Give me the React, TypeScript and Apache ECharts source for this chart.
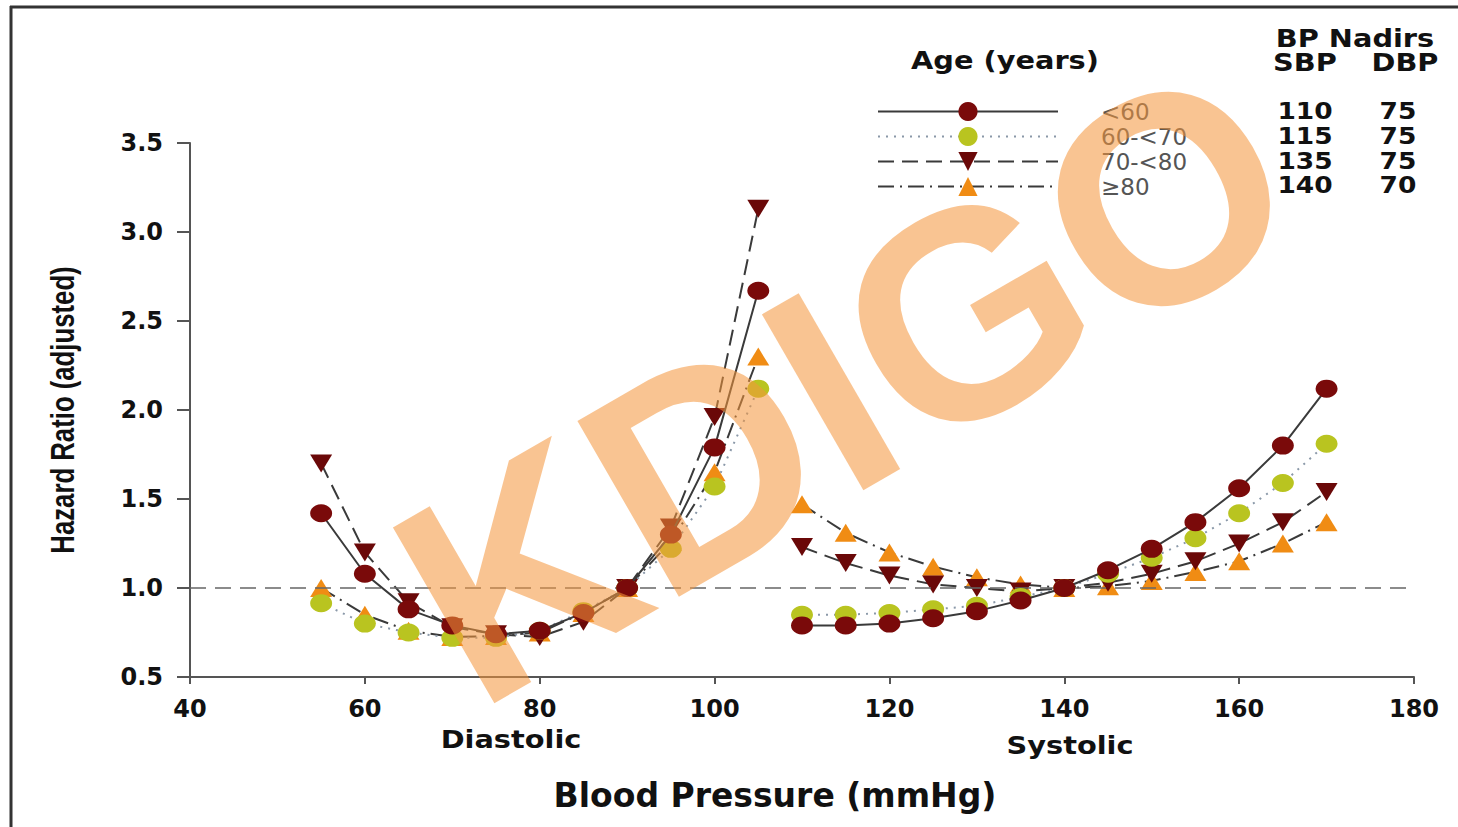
import React, { useEffect, useRef } from "react";
import * as echarts from "echarts";

const ageGroups = ["<60", "60-<70", "70-<80", "≥80"];
const diastolicBP = [55, 60, 65, 70, 75, 80, 85, 90, 95, 100, 105];
const systolicBP = [110, 115, 120, 125, 130, 135, 140, 145, 150, 155, 160, 165, 170];

const hrDiaUnder60 = [1.42, 1.08, 0.88, 0.79, 0.74, 0.76, 0.86, 1.0, 1.3, 1.79, 2.67];
const hrDia60to70 = [0.915, 0.8, 0.75, 0.72, 0.72, 0.76, 0.87, 1.0, 1.22, 1.57, 2.12];
const hrDia70to80 = [1.7, 1.2, 0.92, 0.78, 0.74, 0.725, 0.81, 1.0, 1.34, 1.96, 3.13];
const hrDia80plus = [1.0, 0.85, 0.76, 0.725, 0.73, 0.75, 0.86, 1.0, 1.26, 1.65, 2.3];

const hrSysUnder60 = [0.79, 0.79, 0.8, 0.83, 0.87, 0.93, 1.0, 1.1, 1.22, 1.37, 1.56, 1.8, 2.12];
const hrSys60to70 = [0.85, 0.85, 0.86, 0.88, 0.9, 0.95, 1.0, 1.08, 1.17, 1.28, 1.42, 1.59, 1.81];
const hrSys70to80 = [1.23, 1.14, 1.07, 1.02, 1.0, 0.98, 1.0, 1.03, 1.08, 1.15, 1.25, 1.37, 1.54];
const hrSys80plus = [1.47, 1.31, 1.2, 1.12, 1.06, 1.02, 1.0, 1.01, 1.04, 1.09, 1.15, 1.25, 1.37];

const nadirSBP = [110, 115, 135, 140];
const nadirDBP = [75, 75, 75, 70];

const markerColors = ["#7a0a0a", "#b9c420", "#6a0808", "#f08c14"];
const markerSymbols = ["circle", "circle", "triangle", "triangle"];
const markerRotate = [0, 0, 180, 0];
const lineTypes: any[] = ["solid", [2, 6], [16, 8], [16, 6, 2, 6]];
const lineColors = ["#3a3a3a", "#8a98a8", "#3a3a3a", "#3a3a3a"];

const diaSets = [hrDiaUnder60, hrDia60to70, hrDia70to80, hrDia80plus];
const sysSets = [hrSysUnder60, hrSys60to70, hrSys70to80, hrSys80plus];

const BOLD = '"DejaVu Sans", "Liberation Sans", Arial, sans-serif';

function label(text: string, x: number, y: number, size: number, sx = 1.15) {
  return {
    type: "text",
    x,
    y,
    scaleX: sx,
    style: { text, font: `bold ${size}px ${BOLD}`, fill: "#111", align: "center", verticalAlign: "middle" },
  };
}

export default function App() {
  const ref = useRef<HTMLDivElement>(null);
  useEffect(() => {
    if (!ref.current) return;
    const chart = echarts.init(ref.current, null, { renderer: "svg" });

    const mkSeries = (i: number, xs: number[], ys: number[], withMark: boolean) => ({
      name: ageGroups[i],
      type: "line",
      data: xs.map((x, k) => [x, ys[k]]),
      symbol: markerSymbols[i],
      symbolRotate: markerRotate[i],
      symbolSize: [22, 18],
      itemStyle: { color: markerColors[i] },
      lineStyle: { color: lineColors[i], width: 2, type: lineTypes[i] },
      z: 3 + (3 - i),
      markLine: withMark
        ? {
            silent: true,
            symbol: "none",
            label: { show: false },
            lineStyle: { color: "#666", width: 1.6, type: [16, 9] },
            data: [{ yAxis: 1 }],
          }
        : undefined,
    });

    const series: any[] = [];
    for (let i = 0; i < 4; i++) {
      series.push(mkSeries(i, diastolicBP, diaSets[i], i === 0));
      series.push(mkSeries(i, systolicBP, sysSets[i], false));
    }

    const rowY = [111, 136, 161, 185];
    const tableTexts: any[] = [];
    nadirSBP.forEach((v, i) => {
      tableTexts.push(label(String(v), 1305, rowY[i], 23));
      tableTexts.push(label(String(nadirDBP[i]), 1398, rowY[i], 23));
    });

    chart.setOption({
      animation: false,
      backgroundColor: "#fff",
      grid: { left: 190, top: 143, right: 44, bottom: 150, containLabel: false },
      xAxis: {
        type: "value",
        min: 40,
        max: 180,
        interval: 20,
        name: "Blood Pressure (mmHg)",
        nameLocation: "middle",
        nameGap: 102,
        nameTextStyle: { fontFamily: BOLD, fontWeight: "bold", fontSize: 33, color: "#111", padding: [0, 54, 0, 0] },
        axisLine: { lineStyle: { color: "#555", width: 2 } },
        axisTick: { length: 7, lineStyle: { color: "#555", width: 2 } },
        axisLabel: { margin: 20, fontFamily: BOLD, fontWeight: "bold", fontSize: 24, color: "#111" },
        splitLine: { show: false },
      },
      yAxis: {
        type: "value",
        min: 0.5,
        max: 3.5,
        interval: 0.5,
        axisLine: { show: true, lineStyle: { color: "#555", width: 2 } },
        axisTick: { show: true, length: 13, lineStyle: { color: "#555", width: 2 } },
        axisLabel: { margin: 27, fontFamily: BOLD, fontWeight: "bold", fontSize: 24, color: "#111", formatter: (v: number) => v.toFixed(1) },
        splitLine: { show: false },
      },
      legend: {
        data: ageGroups,
        orient: "vertical",
        left: 877,
        top: 100,
        padding: 0,
        itemWidth: 180,
        itemHeight: 24,
        itemGap: 2,
        selectedMode: false,
        textStyle: { fontFamily: BOLD, fontSize: 23, lineHeight: 22, color: "#555", padding: [0, 0, 0, 38] },
      },
      graphic: [
        { type: "line", shape: { x1: 10, y1: 7, x2: 1458, y2: 7 }, style: { stroke: "#333", lineWidth: 3 } },
        { type: "line", shape: { x1: 11, y1: 6, x2: 11, y2: 827 }, style: { stroke: "#333", lineWidth: 3 } },
        {
          type: "text",
          x: 62,
          y: 410,
          rotation: Math.PI / 2,
          scaleX: 0.78,
          style: {
            text: "Hazard Ratio (adjusted)",
            font: 'bold 33px "Liberation Sans", Arial, sans-serif',
            fill: "#111",
            align: "center",
            verticalAlign: "middle",
          },
        },
        label("Age (years)", 1005, 60, 24, 1.2),
        label("BP Nadirs", 1355, 38, 24, 1.2),
        label("SBP", 1305, 62, 24, 1.2),
        label("DBP", 1405, 62, 24, 1.2),
        ...tableTexts,
        label("Diastolic", 511, 739, 24, 1.2),
        label("Systolic", 1070, 745, 24, 1.2),
        {
          type: "text",
          x: 845,
          y: 383,
          rotation: Math.PI / 6,
          z: 100,
          silent: true,
          style: {
            text: "KDIGO",
            font: 'bold 295px "Liberation Sans", Arial, sans-serif',
            fill: "rgba(245,150,60,0.56)",
            align: "center",
            verticalAlign: "middle",
          },
        },
      ],
      series,
    });
    return () => chart.dispose();
  }, []);
  return <div ref={ref} style={{ position: "absolute", left: 0, top: 0, width: 1458, height: 827 }} />;
}
